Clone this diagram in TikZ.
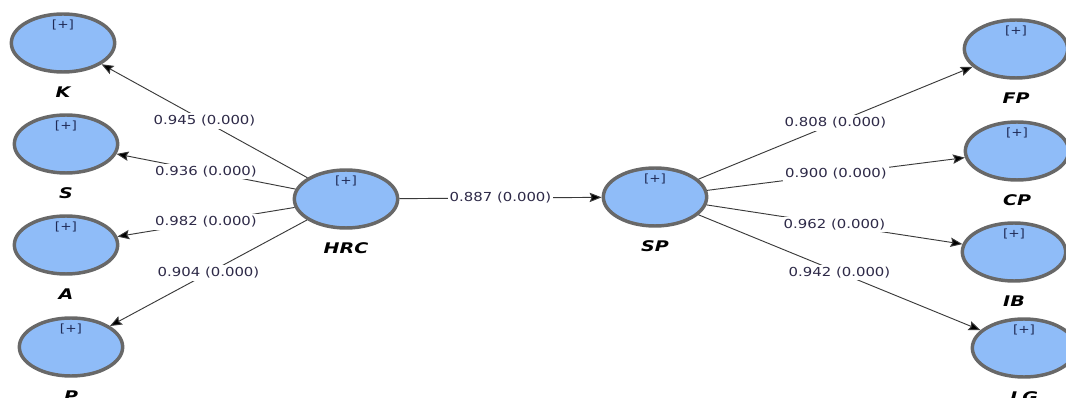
\documentclass[tikz,border=0pt]{standalone}
\usepackage{fontspec}
\usepackage{xcolor}
\usetikzlibrary{shapes.geometric, arrows.meta, positioning}
\newfontfamily\plsfont[FakeStretch=1.2]{DejaVu Sans}
\newfontfamily\plsnamefont[FakeStretch=1.3]{DejaVu Sans}
\definecolor{latentfill}{HTML}{8FBCF8}
\definecolor{latentdraw}{HTML}{686868}
\definecolor{loadtext}{HTML}{2E2A48}
\definecolor{plustext}{HTML}{1F2A55}
\definecolor{pathline}{HTML}{3A3A3A}

\begin{document}
\begin{tikzpicture}[
    x=0.75pt, y=-0.75pt,
    latent/.style={ellipse, draw=latentdraw, fill=latentfill, line width=2.6pt,
                   minimum width=77.5pt, minimum height=43.5pt, inner sep=0pt},
    plus/.style={font=\plsfont\fontsize{8.5}{10}\selectfont, text=plustext, inner sep=1pt},
    lvname/.style={font=\plsnamefont\bfseries\itshape\fontsize{11}{13}\selectfont},
    arrow/.style={-{Stealth[length=9pt, width=7pt, inset=1.5pt, fill=black]},
                  line width=0.7pt, color=pathline},
    coef/.style={fill=white, font=\plsfont\fontsize{9.3}{11}\selectfont, text=loadtext,
                 inner sep=1.5pt}
]
\useasboundingbox (0,0) rectangle (1066,398);

% constructs
\node[latent] (HRC) at (346,199) {};
\node[latent] (SP) at (655,197) {};

% HRC dimensions
\node[latent] (K) at (63,43) {};
\node[latent] (S) at (66,144) {};
\node[latent] (A) at (66,245) {};
\node[latent] (P) at (71,347) {};

% SP dimensions
\node[latent] (FP) at (1016,49) {};
\node[latent] (CP) at (1017,151) {};
\node[latent] (IB) at (1014,252) {};
\node[latent] (LG) at (1024,348) {};

% [+] markers
\node[plus, below=4.5pt of HRC.north] (HRC-plus) {[+]};
\node[plus, below=4.5pt of SP.north] (SP-plus) {[+]};
\node[plus, below=4.5pt of K.north] (K-plus) {[+]};
\node[plus, below=4.5pt of S.north] (S-plus) {[+]};
\node[plus, below=4.5pt of A.north] (A-plus) {[+]};
\node[plus, below=4.5pt of P.north] (P-plus) {[+]};
\node[plus, below=4.5pt of FP.north] (FP-plus) {[+]};
\node[plus, below=4.5pt of CP.north] (CP-plus) {[+]};
\node[plus, below=4.5pt of IB.north] (IB-plus) {[+]};
\node[plus, below=4.5pt of LG.north] (LG-plus) {[+]};

% names
\node[lvname, below=6pt of HRC] (HRC-name) {HRC};
\node[lvname, below=6pt of SP] (SP-name) {SP};
\node[lvname, below=6pt of K] (K-name) {K};
\node[lvname, below=6pt of S] (S-name) {S};
\node[lvname, below=6pt of A] (A-name) {A};
\node[lvname, below=6pt of P] (P-name) {P};
\node[lvname, below=6pt of FP] (FP-name) {FP};
\node[lvname, below=6pt of CP] (CP-name) {CP};
\node[lvname, below=6pt of IB] (IB-name) {IB};
\node[lvname, below=6pt of LG] (LG-name) {LG};

% loadings and path
\draw[arrow] (HRC) -- node[coef] (c-K) {0.945 (0.000)} (K);
\draw[arrow] (HRC) -- node[coef] (c-S) {0.936 (0.000)} (S);
\draw[arrow] (HRC) -- node[coef] (c-A) {0.982 (0.000)} (A);
\draw[arrow] (HRC) -- node[coef] (c-P) {0.904 (0.000)} (P);
\draw[arrow] (HRC) -- node[coef] (c-SP) {0.887 (0.000)} (SP);
\draw[arrow] (SP) -- node[coef] (c-FP) {0.808 (0.000)} (FP);
\draw[arrow] (SP) -- node[coef] (c-CP) {0.900 (0.000)} (CP);
\draw[arrow] (SP) -- node[coef] (c-IB) {0.962 (0.000)} (IB);
\draw[arrow] (SP) -- node[coef] (c-LG) {0.942 (0.000)} (LG);

\end{tikzpicture}
\end{document}
